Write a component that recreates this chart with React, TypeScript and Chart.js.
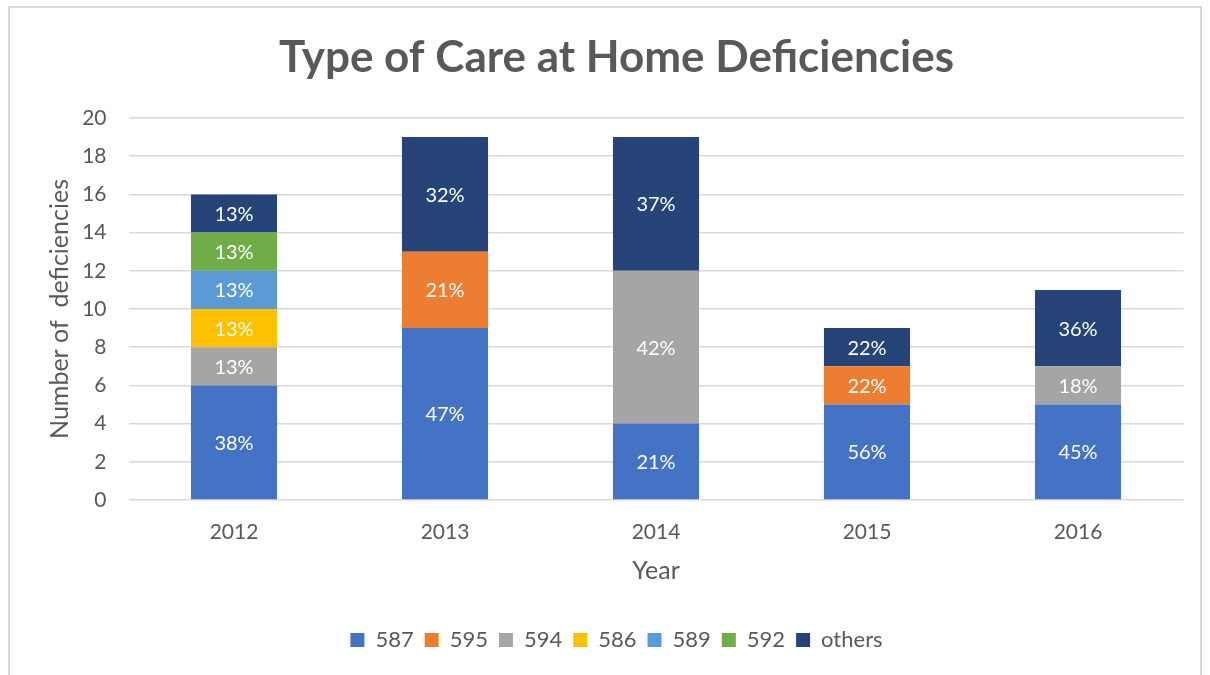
import React, { useEffect, useRef } from "react";
import { Chart, registerables } from "chart.js";

Chart.register(...registerables);

const chartTitle = "Type of Care at Home Deficiencies";
const years = ["2012", "2013", "2014", "2015", "2016"];
const seriesNames = ["587", "595", "594", "586", "589", "592", "others"];
const s587 = [6, 9, 4, 5, 5];
const s595 = [0, 4, 0, 2, 0];
const s594 = [2, 0, 8, 0, 2];
const s586 = [2, 0, 0, 0, 0];
const s589 = [2, 0, 0, 0, 0];
const s592 = [2, 0, 0, 0, 0];
const sOthers = [2, 6, 7, 2, 4];
const seriesColors = ["#4472C4", "#ED7D31", "#A5A5A5", "#FFC000", "#5B9BD5", "#70AD47", "#264478"];
const yMin = 0;
const yMax = 20;
const yStep = 2;

const FONT = "Lato, 'Open Sans', sans-serif";
const TEXT = "#595959";

const pctLabels = {
  id: "pctLabels",
  afterDatasetsDraw(chart: any) {
    const ctx = chart.ctx;
    const n = chart.data.labels.length;
    const totals: number[] = [];
    for (let i = 0; i < n; i++) {
      totals.push(chart.data.datasets.reduce((s: number, d: any) => s + (Number(d.data[i]) || 0), 0));
    }
    ctx.save();
    ctx.font = `20px ${FONT}`;
    ctx.fillStyle = "#FFFFFF";
    ctx.textAlign = "center";
    ctx.textBaseline = "middle";
    chart.data.datasets.forEach((ds: any, di: number) => {
      const meta = chart.getDatasetMeta(di);
      meta.data.forEach((bar: any, i: number) => {
        const v = Number(ds.data[i]);
        if (!v) return;
        const p = bar.getProps(["x", "y", "base"], true);
        ctx.fillText(Math.round((v / totals[i]) * 100) + "%", p.x, (p.y + p.base) / 2 + 1);
      });
    });
    ctx.restore();
  },
};

export default function App() {
  const ref = useRef<HTMLCanvasElement | null>(null);

  useEffect(() => {
    if (!ref.current) return;
    const values = [s587, s595, s594, s586, s589, s592, sOthers];
    const chart = new Chart(ref.current, {
      type: "bar",
      data: {
        labels: years,
        datasets: seriesNames.map((name, i) => ({
          label: name,
          data: values[i],
          backgroundColor: seriesColors[i],
          borderWidth: 0,
          barPercentage: 0.408,
          categoryPercentage: 1,
        })),
      },
      options: {
        responsive: false,
        animation: false,
        layout: { padding: { left: 49.5, right: 26.5, top: 0, bottom: 14 } },
        plugins: {
          title: {
            display: true,
            text: chartTitle,
            color: TEXT,
            font: { family: FONT, size: 44, weight: "bold" },
            padding: { top: 31.6, bottom: 33.6 },
          },
          legend: {
            position: "bottom",
            labels: {
              boxWidth: 14,
              boxHeight: 14,
              color: TEXT,
              font: { family: FONT, size: 22 },
              padding: 11,
            },
          },
          tooltip: { enabled: false },
        },
        scales: {
          x: {
            stacked: true,
            grid: { display: false, drawTicks: false },
            border: { display: false },
            ticks: { color: TEXT, font: { family: FONT, size: 21 }, padding: 20 },
            title: {
              display: true,
              text: "Year",
              color: TEXT,
              font: { family: FONT, size: 25 },
              padding: { top: 4, bottom: 32 },
            },
            afterFit: (s: any) => {
              s.height = 118;
            },
          },
          y: {
            stacked: true,
            min: yMin,
            max: yMax,
            ticks: { stepSize: yStep, color: TEXT, font: { family: FONT, size: 21 }, padding: 22 },
            grid: { color: "#D9D9D9", lineWidth: 1.5, drawTicks: false },
            border: { display: false },
            title: {
              display: true,
              text: "Number of  deficiencies",
              color: TEXT,
              font: { family: FONT, size: 25 },
              padding: { top: -4.5, bottom: 0 },
            },
            afterFit: (s: any) => {
              s.width = 79;
            },
          },
        },
      },
      plugins: [pctLabels],
    } as any);
    return () => chart.destroy();
  }, []);

  return (
    <div style={{ position: "fixed", left: 0, top: 0, width: 1210, height: 675, background: "#FFFFFF", overflow: "hidden" }}>
      <div
        style={{
          position: "absolute",
          left: 8,
          top: 6,
          width: 1194,
          height: 720,
          border: "2px solid #D9D9D9",
          boxSizing: "border-box",
        }}
      />
      <canvas ref={ref} width={1210} height={675} style={{ position: "absolute", left: 0, top: 0 }} />
    </div>
  );
}
